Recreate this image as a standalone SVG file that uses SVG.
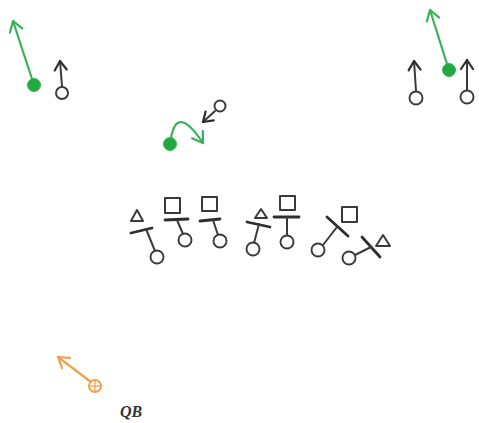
<svg xmlns="http://www.w3.org/2000/svg" width="479" height="423" viewBox="0 0 479 423">
<style>
.bk{fill:none;stroke:#3a3a3a;stroke-width:2;stroke-linecap:round;stroke-linejoin:round}
.bar{fill:none;stroke:#2e2e2e;stroke-width:2.8;stroke-linecap:round}
.o{fill:#fff;stroke:#3a3a3a;stroke-width:1.9}
.gd{fill:#22a83e;stroke:#3ab158;stroke-width:1}
.gl{fill:none;stroke:#3ab158;stroke-width:2.2;stroke-linecap:round}
.ol{fill:none;stroke:#f2a04c;stroke-width:2.2;stroke-linecap:round}
.lbl{font-family:"Liberation Serif","DejaVu Serif",serif;font-weight:bold;font-style:italic;font-size:16px;fill:#333}
</style>
<defs>
<marker id="ab" markerUnits="userSpaceOnUse" markerWidth="20" markerHeight="20" refX="0" refY="0" orient="auto" viewBox="-12 -10 20 20" overflow="visible">
<path d="M-9,-6 L0,0 L-9,6" fill="none" stroke="#2e2e2e" stroke-width="2.2" stroke-linecap="round" stroke-linejoin="round"/>
</marker>
<marker id="ag" markerUnits="userSpaceOnUse" markerWidth="20" markerHeight="20" refX="0" refY="0" orient="auto" viewBox="-12 -10 20 20" overflow="visible">
<path d="M-10,-6.5 L0,0 L-10,6.5" fill="none" stroke="#3ab158" stroke-width="2.2" stroke-linecap="round" stroke-linejoin="round"/>
</marker>
<marker id="ao" markerUnits="userSpaceOnUse" markerWidth="20" markerHeight="20" refX="0" refY="0" orient="auto" viewBox="-12 -10 20 20" overflow="visible">
<path d="M-10,-6.5 L0,0 L-10,6.5" fill="none" stroke="#f2a04c" stroke-width="2.2" stroke-linecap="round" stroke-linejoin="round"/>
</marker>
</defs>
<rect width="479" height="423" fill="#fff"/>
<g id="connectors">
<line class="gl" x1="32" y1="79" x2="13" y2="21" marker-end="url(#ag)"/>
<line class="bk" x1="62" y1="86" x2="60" y2="61" marker-end="url(#ab)"/>
<path class="gl" d="M171,138 Q177,104 203,143" marker-end="url(#ag)"/>
<line class="bk" x1="215" y1="111" x2="203" y2="122" marker-end="url(#ab)"/>
<line class="bk" x1="416" y1="91" x2="414" y2="61" marker-end="url(#ab)"/>
<line class="bk" x1="467" y1="90" x2="467" y2="60" marker-end="url(#ab)"/>
<line class="gl" x1="447" y1="64" x2="430" y2="10" marker-end="url(#ag)"/>
<line class="ol" x1="91" y1="382" x2="58" y2="357" marker-end="url(#ao)"/>
</g>
<g id="wr-left"><circle class="gd" cx="34" cy="85" r="6.5"/></g>
<g id="te-left"><circle class="o" cx="62" cy="93" r="6"/></g>
<g id="rb"><circle class="gd" cx="170" cy="144" r="6.5"/></g>
<g id="motion"><circle class="o" cx="220" cy="106" r="5.5"/></g>
<g id="wr-right-a"><circle class="o" cx="416" cy="98" r="6.5"/></g>
<g id="wr-right-b"><circle class="o" cx="467" cy="97" r="6.5"/></g>
<g id="wr-right-green"><circle class="gd" cx="449" cy="70" r="6.5"/></g>
<g id="de-left">
<polygon class="bk" points="137,210 131,221 143,221"/>
<line class="bar" x1="131" y1="233" x2="152" y2="228"/>
<line class="bk" x1="146" y1="229" x2="155" y2="251"/>
<circle class="o" cx="157" cy="257" r="6.5"/>
</g>
<g id="lt">
<rect class="bk" x="165" y="198" width="15" height="15"/>
<line class="bar" x1="165" y1="220" x2="188" y2="219"/>
<line class="bk" x1="177" y1="220" x2="183" y2="234"/>
<circle class="o" cx="185" cy="240" r="6.5"/>
</g>
<g id="lg">
<rect class="bk" x="202" y="197" width="15" height="14"/>
<line class="bar" x1="200" y1="221" x2="220" y2="219"/>
<line class="bk" x1="213" y1="220" x2="218" y2="235"/>
<circle class="o" cx="220" cy="241" r="6.5"/>
</g>
<g id="c">
<polygon class="bk" points="261,209 255,218 267,218"/>
<line class="bar" x1="247" y1="222" x2="270" y2="227"/>
<line class="bk" x1="259" y1="224" x2="254" y2="243"/>
<circle class="o" cx="253" cy="249" r="6.5"/>
</g>
<g id="rg">
<rect class="bk" x="280" y="196" width="15" height="14"/>
<line class="bar" x1="274" y1="217" x2="299" y2="217"/>
<line class="bk" x1="287" y1="217" x2="287" y2="236"/>
<circle class="o" cx="287" cy="242" r="6.5"/>
</g>
<g id="rt">
<rect class="bk" x="342" y="207" width="15" height="15"/>
<line class="bar" x1="327" y1="217" x2="348" y2="236"/>
<line class="bk" x1="337" y1="227" x2="323" y2="245"/>
<circle class="o" cx="318" cy="250" r="6.5"/>
</g>
<g id="de-right">
<polygon class="bk" points="383,235 376,246 390,246"/>
<line class="bar" x1="362" y1="237" x2="380" y2="257"/>
<line class="bk" x1="371" y1="247" x2="355" y2="255"/>
<circle class="o" cx="349" cy="258" r="6.5"/>
</g>
<g id="qb">
<circle cx="95" cy="386" r="6" fill="#fff" stroke="#f2a04c" stroke-width="2"/>
<line x1="89" y1="386" x2="101" y2="386" stroke="#f2a04c" stroke-width="1.3"/>
<line x1="95" y1="380" x2="95" y2="392" stroke="#f2a04c" stroke-width="1.3"/>
<text class="lbl" x="120" y="417">QB</text>
</g>
</svg>
